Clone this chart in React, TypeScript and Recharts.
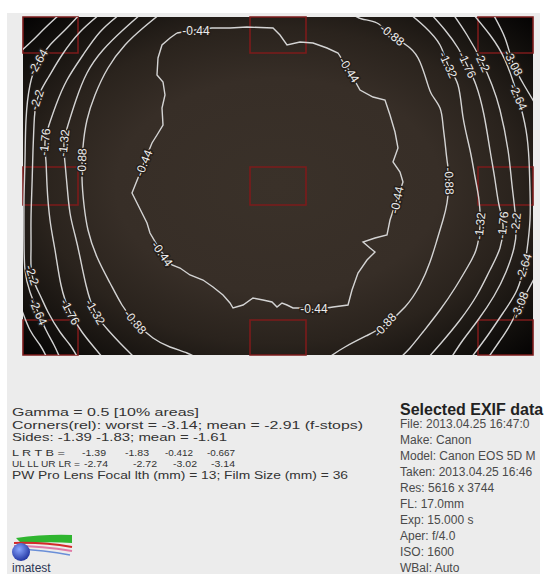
import React from "react";
import { ComposedChart, Line, Scatter, XAxis, YAxis, ReferenceArea } from "recharts";

type Pt = [number, number];

// grid of the vignetting map (x right, y down)
const X_RANGE: [number, number] = [23, 533];
const Y_RANGE: [number, number] = [17, 355];

// contour arcs, one array of points per visible piece
const C044: Pt[][] = [
  [
    [177, 33], [170, 38], [162, 45], [158, 58], [157, 75], [163, 82], [165, 95], [162, 108], [163, 125],
    [157, 135], [152, 143], [145, 160], [138, 178], [132, 193], [137, 203], [142, 213], [147, 223],
    [150, 233], [160, 250], [172, 265], [180, 268], [190, 275], [203, 280], [213, 287], [223, 295],
    [230, 303], [233, 308], [243, 305], [253, 298], [263, 300], [272, 302], [277, 307], [282, 303],
    [287, 305], [293, 308], [300, 308], [315, 310], [333, 307], [348, 305], [352, 290], [358, 273],
    [367, 260], [375, 252], [370, 248], [363, 242], [375, 238], [387, 235], [390, 220], [395, 205],
    [403, 182], [400, 172], [393, 162], [398, 148], [395, 132], [390, 115], [385, 100], [373, 97],
    [360, 90], [350, 72], [338, 53], [327, 48], [313, 43], [300, 42], [287, 45], [280, 35], [273, 28],
    [247, 27], [230, 28], [212, 28], [195, 30], [177, 33],
  ],
];
const C088: Pt[][] = [
  [[160, 14], [143, 28], [125, 45], [108, 68], [95, 95], [87, 120], [83, 147], [82, 178], [84, 205], [88, 230],
   [97, 257], [110, 283], [122, 305], [135, 322], [153, 338], [170, 347], [187, 353], [197, 358]],
  [[352, 14], [362, 19], [377, 23], [392, 35], [410, 48], [420, 62], [427, 82], [432, 95], [440, 108], [443, 125],
   [445, 142], [447, 160], [449, 180], [447, 203], [443, 220], [437, 240], [430, 262], [420, 285], [405, 307],
   [385, 325], [368, 335], [345, 347], [328, 358]],
];
const C132: Pt[][] = [
  [[141, 14], [123, 30], [103, 50], [87, 73], [76, 100], [68, 125], [64, 143], [65, 163], [67, 185], [70, 213],
   [75, 235], [80, 257], [86, 285], [95, 312], [108, 330], [120, 343], [135, 358]],
  [[410, 14], [425, 27], [440, 45], [448, 65], [458, 85], [463, 117], [470, 150], [475, 177], [479, 200],
   [480, 226], [476, 250], [467, 268], [455, 288], [440, 310], [423, 332], [410, 348], [400, 358]],
];
const C176: Pt[][] = [
  [[120, 14], [100, 32], [83, 55], [67, 80], [56, 105], [49, 125], [45, 142], [46, 162], [47, 185], [50, 220],
   [55, 250], [61, 285], [70, 312], [82, 332], [93, 346], [103, 358]],
  [[431, 14], [445, 30], [458, 48], [467, 65], [476, 85], [484, 115], [490, 150], [495, 180], [499, 205],
   [503, 225], [500, 248], [490, 270], [477, 295], [460, 320], [442, 342], [428, 358]],
];
const C220: Pt[][] = [
  [[100, 14], [80, 32], [62, 55], [48, 78], [37, 100], [34, 125], [33, 150], [32, 185], [31, 220], [31, 250],
   [32, 275], [40, 295], [48, 312], [60, 332], [70, 345], [78, 358]],
  [[453, 14], [467, 35], [482, 62], [492, 85], [500, 110], [508, 150], [512, 185], [516, 223], [514, 248],
   [506, 272], [494, 296], [478, 320], [463, 340], [451, 358]],
];
const C264: Pt[][] = [
  [[80, 14], [65, 30], [50, 45], [38, 62], [30, 85], [26, 120], [25, 160], [24, 200], [24, 240], [25, 270],
   [30, 292], [38, 312], [46, 330], [54, 345], [60, 358]],
  [[473, 14], [490, 35], [505, 60], [518, 97], [526, 130], [529, 160], [530, 190], [530, 220], [527, 250],
   [524, 267], [517, 290], [503, 313], [488, 335], [471, 358]],
];
const C308: Pt[][] = [
  [[60, 14], [45, 28], [33, 40], [20, 52]],
  [[20, 305], [30, 330], [40, 345], [47, 358]],
  [[493, 14], [505, 38], [513, 63], [524, 85], [536, 105]],
  [[536, 275], [527, 292], [520, 305], [510, 325], [499, 342], [488, 358]],
];

const CONTOURS: { level: string; arcs: Pt[][]; curve: "linear" | "natural" }[] = [
  { level: "-0.44", arcs: C044, curve: "linear" },
  { level: "-0.88", arcs: C088, curve: "natural" },
  { level: "-1.32", arcs: C132, curve: "natural" },
  { level: "-1.76", arcs: C176, curve: "natural" },
  { level: "-2.2", arcs: C220, curve: "natural" },
  { level: "-2.64", arcs: C264, curve: "natural" },
  { level: "-3.08", arcs: C308, curve: "natural" },
];

// [text, x, y, angle]
const CONTOUR_LABELS: [string, number, number, number][] = [
  ["-0.44", 196, 31, 0], ["-0.44", 349, 70, 58], ["-0.44", 144, 163, -68], ["-0.44", 397, 200, -78],
  ["-0.44", 314, 309, 0], ["-0.44", 162, 254, 55],
  ["-0.88", 392, 35, 38], ["-0.88", 82, 162, -88], ["-0.88", 449, 181, 88], ["-0.88", 135, 322, 50],
  ["-0.88", 385, 325, -48],
  ["-1.32", 448, 65, 65], ["-1.32", 64, 143, -84], ["-1.32", 95, 312, 60], ["-1.32", 480, 226, -84],
  ["-1.76", 467, 65, 65], ["-1.76", 45, 142, -84], ["-1.76", 70, 312, 62], ["-1.76", 503, 225, -84],
  ["-2.2", 482, 62, 65], ["-2.2", 37, 100, -72], ["-2.2", 32, 275, 72], ["-2.2", 516, 223, -84],
  ["-2.64", 38, 62, -60], ["-2.64", 518, 97, 66], ["-2.64", 38, 312, 66], ["-2.64", 524, 267, -72],
  ["-3.08", 513, 63, 62], ["-3.08", 520, 305, -68],
];

// 10% measurement areas
const AREA_X: Pt[] = [[23, 78], [250, 306], [478, 533]];
const AREA_Y: Pt[] = [[17, 53], [167, 205], [320, 355]];

const STATS = [
  "Gamma = 0.5  [10% areas]",
  "Corners(rel): worst = -3.14;  mean = -2.91 (f-stops)",
  "Sides: -1.39  -1.83;  mean = -1.61",
];
const LRTB = ["-1.39", "-1.83", "-0.412", "-0.667"];
const CORNERS = ["-2.74", "-2.72", "-3.02", "-3.14"];
const LENS = "PW Pro Lens Focal lth (mm) = 13;  Film Size (mm) = 36";
const EXIF_TITLE = "Selected EXIF data";
const EXIF = [
  "File: 2013.04.25 16:47:0",
  "Make: Canon",
  "Model: Canon EOS 5D M",
  "Taken: 2013.04.25 16:46",
  "Res: 5616 x 3744",
  "FL: 17.0mm",
  "Exp: 15.000 s",
  "Aper: f/4.0",
  "ISO: 1600",
  "WBal: Auto",
];

const FONT = "'Liberation Sans', Arial, sans-serif";

const renderLabel = (p: any) => {
  const { cx, cy, payload } = p;
  return (
    <text
      x={cx}
      y={cy}
      transform={`rotate(${payload.angle} ${cx} ${cy})`}
      textAnchor="middle"
      dominantBaseline="central"
      fontFamily={FONT}
      fontSize={12}
      fill="#ececec"
      stroke="#261f1a"
      strokeWidth={3}
      paintOrder="stroke"
    >
      {payload.text}
    </text>
  );
};

export default function App() {
  const labelData = CONTOUR_LABELS.map(([text, x, y, angle]) => ({ x, y, text, angle }));
  const lrtbX = [82, 125, 165, 207];
  const cornX = [84, 133, 173, 211];

  return (
    <div style={{ position: "absolute", left: 0, top: 0, width: 547, height: 574, background: "#fff", overflow: "hidden" }}>
      <div style={{ position: "absolute", left: 7, top: 13, width: 533, height: 561, background: "#ececec" }} />
      <div
        style={{
          position: "absolute",
          left: 23,
          top: 17,
          width: 510,
          height: 338,
          background:
            "radial-gradient(ellipse at 50% 50%, #3a3129 0%, #372e27 45%, #2a231d 66%, #14110e 86%, #040303 100%)",
        }}
      />
      <div style={{ position: "absolute", left: 0, top: 0 }}>
        <ComposedChart width={547} height={370} margin={{ top: 17, left: 23, right: 14, bottom: 15 }}>
          <XAxis type="number" dataKey="x" domain={X_RANGE} allowDataOverflow hide />
          <YAxis type="number" dataKey="y" domain={Y_RANGE} reversed allowDataOverflow hide />
          {AREA_X.map(([x1, x2]) =>
            AREA_Y.map(([y1, y2]) => (
              <ReferenceArea
                key={`a-${x1}-${y1}`}
                x1={x1}
                x2={x2}
                y1={y1}
                y2={y2}
                fill="none"
                fillOpacity={0}
                stroke="#7c1b1b"
                strokeWidth={1.6}
              />
            ))
          )}
          {CONTOURS.map((c) =>
            c.arcs.map((arc, i) => (
              <Line
                key={`${c.level}-${i}`}
                data={arc.map(([x, y]) => ({ x, y }))}
                dataKey="y"
                type={c.curve}
                stroke="#d4d4d4"
                strokeWidth={1.4}
                dot={false}
                activeDot={false}
                isAnimationActive={false}
              />
            ))
          )}
          <Scatter data={labelData} shape={renderLabel} isAnimationActive={false} />
        </ComposedChart>
      </div>
      <svg style={{ position: "absolute", left: 0, top: 0 }} width={547} height={574}>
        <g fontFamily={FONT} fill="#333">
          <text x={12} y={416} fontSize={11} textLength={187} lengthAdjust="spacingAndGlyphs">{STATS[0]}</text>
          <text x={12} y={428.5} fontSize={11} textLength={351} lengthAdjust="spacingAndGlyphs">{STATS[1]}</text>
          <text x={12} y={441} fontSize={11} textLength={215} lengthAdjust="spacingAndGlyphs">{STATS[2]}</text>
          <text x={12} y={456} fontSize={9.5} textLength={53} lengthAdjust="spacingAndGlyphs">L R T B =</text>
          {LRTB.map((v, i) => (
            <text key={v} x={lrtbX[i]} y={456} fontSize={9.5} textLength={v.length > 5 ? 28 : 24} lengthAdjust="spacingAndGlyphs">{v}</text>
          ))}
          <text x={12} y={467} fontSize={9.5} textLength={68} lengthAdjust="spacingAndGlyphs">UL LL UR LR =</text>
          {CORNERS.map((v, i) => (
            <text key={v} x={cornX[i]} y={467} fontSize={9.5} textLength={24} lengthAdjust="spacingAndGlyphs">{v}</text>
          ))}
          <text x={12} y={479} fontSize={10} textLength={336} lengthAdjust="spacingAndGlyphs">{LENS}</text>
        </g>
        <g fontFamily={FONT}>
          <text x={400} y={415} fontSize={16} fontWeight="bold" fill="#222">{EXIF_TITLE}</text>
          {EXIF.map((t, i) => (
            <text key={t} x={400} y={428 + i * 16} fontSize={12} fill="#4a4a4a">{t}</text>
          ))}
        </g>
        <defs>
          <radialGradient id="ball" cx="0.4" cy="0.35" r="0.7">
            <stop offset="0" stopColor="#8aa6ff" />
            <stop offset="1" stopColor="#1c2f9c" />
          </radialGradient>
        </defs>
        <g>
          <path d="M16,538 Q45,534 72,535 L72,543 Q45,541 22,544 Z" fill="#2fb52f" />
          <path d="M14,543 Q42,542 72,547" stroke="#d42a2a" strokeWidth={2} fill="none" />
          <path d="M14,546 Q42,546 72,551" stroke="#e07aa6" strokeWidth={2} fill="none" />
          <path d="M16,549 Q44,550 70,555" stroke="#6a8fd8" strokeWidth={1.5} fill="none" />
          <circle cx={21} cy={552} r={9} fill="url(#ball)" />
          <text x={12} y={572} fontFamily={FONT} fontSize={12} fill="#2c3654">imatest</text>
        </g>
      </svg>
    </div>
  );
}
